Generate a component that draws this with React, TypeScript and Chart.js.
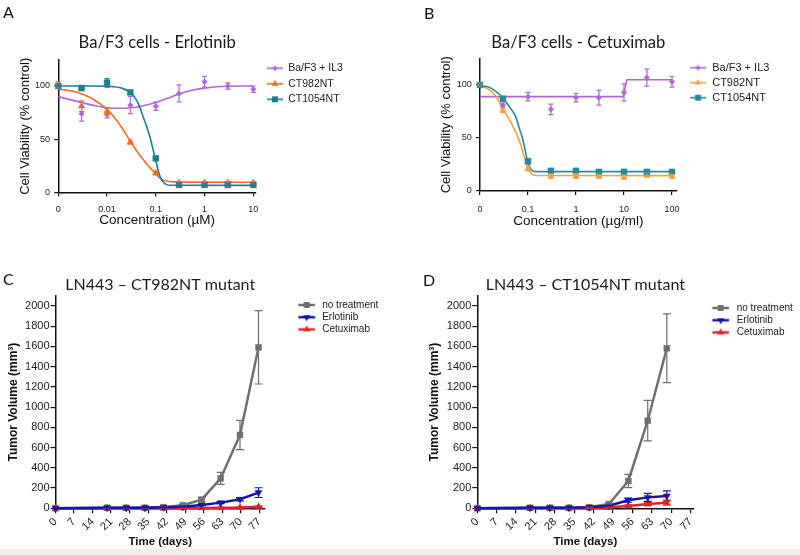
import React, { useEffect, useRef } from "react";
import { Chart, registerables } from "chart.js";

Chart.register(...registerables);

const SANS = "'Liberation Sans', Arial, Helvetica, sans-serif";
const HEAD = "Lato, 'Open Sans', sans-serif";

/* ---------------- Panel A : Ba/F3 cells - Erlotinib ---------------- */
const concA = [0.001, 0.003, 0.01, 0.03, 0.1, 0.3, 1, 3, 10];
const concTicksA = [0.001, 0.01, 0.1, 1, 10];
const concTickLabelsA = ["0", "0.01", "0.1", "1", "10"];
const erlIL3 = [100, 74, 73, 82, 81, 93, 104, 100, 97];
const erlIL3Err = [2, 7, 3, 8, 4, 8, 5, 3, 3];
const erlCT982 = [101, 81, 76, 47, 18, 9, 9, 9, 9];
const erlCT982Err = [3, 5, 3, 1.5, 1.5, 1, 1, 1, 1];
const erlCT1054 = [100, 98, 103, 94, 32, 7, 7, 7, 7];
const erlCT1054Err = [2, 2, 4, 1, 1, 1, 1, 1, 1];
const erlIL3FitX = [0.001, 0.002, 0.003, 0.005, 0.01, 0.02, 0.03, 0.05, 0.1, 0.2, 0.3, 0.5, 1, 2, 3, 10];
const erlIL3FitY = [90, 86.5, 84.5, 82, 79.5, 79, 79.5, 81, 84.5, 89.5, 92.5, 95.5, 98, 99.5, 99.8, 100];
const erlCT982FitX = [0.001, 0.002, 0.003, 0.005, 0.01, 0.015, 0.02, 0.03, 0.045, 0.055, 0.076, 0.096, 0.12, 0.15, 0.2, 0.3, 10];
const erlCT982FitY = [97, 95, 92.5, 88, 78, 69, 61, 48, 36, 31, 23, 18.5, 13.5, 11, 10, 9.6, 9.5];
const erlCT1054FitX = [0.001, 0.005, 0.01, 0.02, 0.03, 0.04, 0.047, 0.055, 0.065, 0.076, 0.085, 0.096, 0.11, 0.122, 0.14, 0.167, 0.2, 10];
const erlCT1054FitY = [100, 100, 99.7, 98, 94, 87, 80, 71, 62, 52, 43, 33, 22, 15, 10, 7.2, 6.6, 6.5];
const viabilityTicks = [0, 50, 100];

/* ---------------- Panel B : Ba/F3 cells - Cetuximab ---------------- */
const concB = [0.01, 0.03, 0.1, 0.3, 1, 3, 10, 30, 100];
const concTicksB = [0.01, 0.1, 1, 10, 100];
const concTickLabelsB = ["0", "0.1", "1", "10", "100"];
const cetIL3 = [100, 81, 89, 77, 88, 88, 93, 107, 103];
const cetIL3Err = [1, 2, 4, 5, 4, 7, 8, 8, 5];
const cetCT982 = [100, 76, 21, 14, 14, 14, 13, 15, 14];
const cetCT982Err = [1, 2, 2, 2, 2, 2, 2, 2, 2];
const cetCT1054 = [100, 87, 28, 19, 19, 18, 18, 18, 18];
const cetCT1054Err = [1, 1, 2, 1, 1, 1, 1, 1, 1];
const cetIL3FitX = [0.01, 9.6, 11.5, 100];
const cetIL3FitY = [89, 89, 105, 105];
const cetCT982FitX = [0.01, 0.015, 0.02, 0.03, 0.04, 0.05, 0.06, 0.07, 0.08, 0.09, 0.1, 0.11, 0.125, 0.15, 100];
const cetCT982FitY = [99, 96, 91, 78, 68, 60, 52, 44, 35, 28, 22, 18, 15.5, 14.6, 14.5];
const cetCT1054FitX = [0.01, 0.015, 0.02, 0.03, 0.04, 0.05, 0.0556, 0.065, 0.0766, 0.087, 0.097, 0.11, 0.124, 0.15, 100];
const cetCT1054FitY = [99.5, 98, 95, 88, 80, 74, 70, 60, 50, 39, 29, 22, 19, 18.3, 18.3];

/* ---------------- Panels C / D : LN443 tumour volume ---------------- */
const dayTicks = [0, 7, 14, 21, 28, 35, 42, 49, 56, 63, 70, 77];
const dayTickLabels = ["0", "7", "14", "21", "28", "35", "42", "49", "56", "63", "70", "77"];
const volumeTicks = [0, 200, 400, 600, 800, 1000, 1200, 1400, 1600, 1800, 2000];

const daysC = [0, 19.5, 26.7, 33.8, 40.8, 48.1, 55.2, 62.4, 69.7, 76.7];
const noTreatC = [0, 5, 5, 5, 10, 30, 85, 296, 725, 1592];
const noTreatCErr = [0, 3, 3, 3, 5, 8, 20, 60, 145, 363];
const erlotinibC = [0, 5, 5, 5, 10, 16, 33, 56, 89, 155];
const erlotinibCErr = [0, 2, 2, 2, 3, 4, 6, 10, 15, 48];
const cetuximabC = [0, 0, 0, 0, 0, 2, 3, 5, 8, 15];
const cetuximabCErr = [0, 0, 0, 0, 0, 1, 1, 2, 3, 6];

const daysD = [0, 19, 26.2, 33.1, 40.4, 47.5, 54.5, 61.5, 68.4];
const noTreatD = [0, 5, 5, 5, 10, 42, 270, 866, 1582];
const noTreatDErr = [0, 3, 3, 3, 5, 10, 65, 200, 340];
const erlotinibD = [0, 5, 5, 5, 10, 25, 80, 108, 122];
const erlotinibDErr = [0, 2, 2, 2, 3, 5, 20, 40, 50];
const cetuximabD = [0, 0, 0, 0, 3, 10, 23, 42, 55];
const cetuximabDErr = [0, 0, 0, 0, 1, 3, 10, 15, 25];

/* ---------------- colours ---------------- */
const PURPLE = "#b266d6";
const ORANGE = "#f26c22";
const TEAL_A = "#1c7f90";
const AMBER = "#f2a33a";
const TEAL_B = "#27899e";
const GRAY = "#6f6f6f";
const BLUE = "#1515a8";
const RED = "#e3232c";
const AXIS = "#111";

type Series = {
  label: string;
  x: number[];
  y: number[];
  err: number[];
  fitX?: number[];
  fitY?: number[];
  smooth?: boolean;
  color: string;
  shape: string;
  rotation?: number;
  radius: number;
  lineWidth: number;
  capHalf: number;
  order: number;
};

type Panel = {
  canvas: { left: number; top: number; width: number; height: number };
  area: { left: number; right: number; top: number; bottom: number };
  title: { text: string; size: number; centerY: number };
  x: {
    type: "logarithmic" | "linear";
    min: number;
    pxPerUnit: number;
    ticks: number[];
    labels: string[];
    fontSize: number;
    tickPad: number;
    tickLen: number;
    rotation: number;
    title: string;
    titleSize: number;
    titleBold: boolean;
    titleCenterY: number;
  };
  y: {
    min: number;
    pxPerUnit: number;
    ticks: number[];
    fontSize: number;
    tickPad: number;
    tickLen: number;
    title: string;
    titleSize: number;
    titleBold: boolean;
    titleCenterX: number;
  };
  legend: { size: number; pad: number; firstY: number; textX: number; lineFrom: number; lineTo: number };
  series: Series[];
};

const errorBarPlugin = {
  id: "errorBars",
  afterDatasetsDraw(chart: any) {
    const ctx = chart.ctx;
    const xs = chart.scales.x;
    const ys = chart.scales.y;
    chart.data.datasets.forEach((ds: any) => {
      if (!ds.errors) return;
      ctx.save();
      ctx.strokeStyle = ds.borderColor;
      ctx.lineWidth = 1.2;
      ds.data.forEach((pt: any, j: number) => {
        const e = ds.errors[j];
        if (!e) return;
        const px = xs.getPixelForValue(pt.x);
        const top = ys.getPixelForValue(pt.y + e);
        const bot = ys.getPixelForValue(Math.max(pt.y - e, 0));
        const cw = ds.capHalf || 3;
        ctx.beginPath();
        ctx.moveTo(px, top);
        ctx.lineTo(px, bot);
        ctx.moveTo(px - cw, top);
        ctx.lineTo(px + cw, top);
        ctx.moveTo(px - cw, bot);
        ctx.lineTo(px + cw, bot);
        ctx.stroke();
      });
      ctx.restore();
    });
  },
};

function makeGlyph(w: number, h: number, from: number, to: number, s: Series): HTMLCanvasElement {
  const c = document.createElement("canvas");
  c.width = w;
  c.height = h;
  const g = c.getContext("2d")!;
  const cy = h / 2;
  g.strokeStyle = s.color;
  g.fillStyle = s.color;
  g.lineWidth = s.lineWidth;
  g.beginPath();
  g.moveTo(from, cy);
  g.lineTo(to, cy);
  g.stroke();
  const cx = (from + to) / 2;
  const r = s.radius;
  const ang = ((s.rotation || 0) * Math.PI) / 180;
  g.beginPath();
  if (s.shape === "rect") {
    const q = r * Math.SQRT1_2;
    g.rect(cx - q, cy - q, 2 * q, 2 * q);
  } else if (s.shape === "rectRot") {
    g.moveTo(cx, cy - r);
    g.lineTo(cx + r, cy);
    g.lineTo(cx, cy + r);
    g.lineTo(cx - r, cy);
    g.closePath();
  } else if (s.shape === "triangle") {
    for (let k = 0; k < 3; k++) {
      const t = ang + (k * 2 * Math.PI) / 3;
      const px = cx + Math.sin(t) * r;
      const py = cy - Math.cos(t) * r;
      if (k === 0) g.moveTo(px, py);
      else g.lineTo(px, py);
    }
    g.closePath();
  } else {
    g.arc(cx, cy, r, 0, Math.PI * 2);
  }
  g.fill();
  return c;
}

function buildChart(canvas: HTMLCanvasElement, p: Panel): Chart {
  const c = p.canvas;
  const a = p.area;
  const W = c.width;
  const H = c.height;
  const lLeft = a.left - c.left;
  const lRight = a.right - c.left;
  const lTop = a.top - c.top;
  const lBottom = a.bottom - c.top;
  const span = lRight - lLeft;
  const xMax =
    p.x.type === "logarithmic"
      ? Math.pow(10, Math.log10(p.x.min) + span / p.x.pxPerUnit)
      : p.x.min + span / p.x.pxPerUnit;
  const yMax = p.y.min + (lBottom - lTop) / p.y.pxPerUnit;

  const tPadTop = p.title.centerY - c.top - p.title.size / 2;
  const tPadBottom = Math.max(lTop - tPadTop - p.title.size, 0);

  const lg = p.legend;
  const boxX = a.right + lg.pad;
  const glyphW = Math.round(lg.textX - boxX - lg.size / 2);
  const m = document.createElement("canvas").getContext("2d")!;
  m.font = `normal ${lg.size}px ${SANS}`;
  const maxText = Math.max(...p.series.map((s) => m.measureText(s.label).width));
  const legendW = lg.pad + glyphW + lg.size / 2 + maxText + 10;
  const padRight = W - lRight - legendW;
  const legendTitleH = lg.firstY - c.top - lg.pad - lg.size / 2;
  const glyphs = p.series.map((s) => makeGlyph(glyphW, 12, lg.lineFrom - boxX, lg.lineTo - boxX, s));

  const xTitleLH = p.x.titleSize * 1.2;
  const yTitleLH = p.y.titleSize * 1.2;

  const datasets: any[] = [];
  p.series.forEach((s) => {
    datasets.push({
      type: "line",
      label: s.label,
      data: s.x.map((x, j) => ({ x, y: s.y[j] })),
      errors: s.err,
      capHalf: s.capHalf,
      showLine: !s.fitX,
      borderColor: s.color,
      backgroundColor: s.color,
      borderWidth: s.lineWidth,
      pointStyle: s.shape,
      pointRotation: s.rotation || 0,
      pointRadius: s.radius,
      pointBorderWidth: 0.5,
      pointBorderColor: s.color,
      pointBackgroundColor: s.color,
      tension: 0,
      clip: false,
      order: s.order,
    });
  });
  p.series.forEach((s) => {
    if (!s.fitX || !s.fitY) return;
    const fy = s.fitY;
    datasets.push({
      type: "line",
      label: s.label + " fit",
      data: s.fitX.map((x, j) => ({ x, y: fy[j] })),
      borderColor: s.color,
      backgroundColor: s.color,
      borderWidth: s.lineWidth,
      pointRadius: 0,
      cubicInterpolationMode: s.smooth ? "monotone" : "default",
      tension: 0,
      clip: false,
      order: 10 + s.order,
    });
  });

  const config: any = {
    type: "line",
    data: { datasets },
    plugins: [errorBarPlugin],
    options: {
      responsive: false,
      animation: false,
      events: [],
      layout: { padding: { left: 0, top: 0, bottom: 0, right: padRight }, autoPadding: false },
      plugins: {
        tooltip: { enabled: false },
        title: {
          display: true,
          text: p.title.text,
          fullSize: false,
          color: "#1a1a1a",
          font: { family: HEAD, size: p.title.size, lineHeight: 1, weight: "normal" },
          padding: { top: tPadTop, bottom: tPadBottom },
        },
        legend: {
          display: true,
          position: "right",
          align: "start",
          fullSize: true,
          maxWidth: 1000,
          title: {
            display: true,
            text: "",
            font: { size: 10, lineHeight: 1 },
            padding: { top: legendTitleH - 10, bottom: 0 },
          },
          labels: {
            usePointStyle: true,
            pointStyleWidth: glyphW,
            boxHeight: lg.size,
            padding: lg.pad,
            color: "#222",
            font: { family: SANS, size: lg.size },
            generateLabels: () =>
              p.series.map((s, i) => ({
                text: s.label,
                fillStyle: s.color,
                strokeStyle: s.color,
                lineWidth: 0,
                hidden: false,
                pointStyle: glyphs[i],
                rotation: 0,
                datasetIndex: i,
                fontColor: "#222",
              })),
          },
        },
      },
      scales: {
        x: {
          type: p.x.type,
          min: p.x.min,
          max: xMax,
          afterBuildTicks: (s: any) => {
            s.ticks = p.x.ticks.map((v) => ({ value: v }));
          },
          afterFit: (s: any) => {
            s.height = H - lBottom;
          },
          ticks: {
            autoSkip: false,
            minRotation: p.x.rotation,
            maxRotation: p.x.rotation,
            padding: p.x.tickPad,
            color: "#222",
            font: { family: SANS, size: p.x.fontSize },
            callback: (_v: any, i: number) => p.x.labels[i],
          },
          grid: { drawOnChartArea: false, drawTicks: true, tickLength: p.x.tickLen, color: AXIS, lineWidth: 1.2 },
          border: { display: true, color: AXIS, width: 1.5 },
          title: {
            display: true,
            text: p.x.title,
            color: "#111",
            font: { family: SANS, size: p.x.titleSize, weight: p.x.titleBold ? "bold" : "normal", lineHeight: 1.2 },
            padding: { top: 0, bottom: H - (p.x.titleCenterY - c.top) - xTitleLH / 2 },
          },
        },
        y: {
          type: "linear",
          min: p.y.min,
          max: yMax,
          afterBuildTicks: (s: any) => {
            s.ticks = p.y.ticks.map((v) => ({ value: v }));
          },
          afterFit: (s: any) => {
            s.width = lLeft;
          },
          ticks: {
            autoSkip: false,
            padding: p.y.tickPad,
            color: "#222",
            font: { family: SANS, size: p.y.fontSize },
            callback: (v: any) => String(v),
          },
          grid: { drawOnChartArea: false, drawTicks: true, tickLength: p.y.tickLen, color: AXIS, lineWidth: 1.2 },
          border: { display: true, color: AXIS, width: 1.5 },
          title: {
            display: true,
            text: p.y.title,
            color: "#111",
            font: { family: SANS, size: p.y.titleSize, weight: p.y.titleBold ? "bold" : "normal", lineHeight: 1.2 },
            padding: { top: p.y.titleCenterX - c.left - yTitleLH / 2, bottom: 0 },
          },
        },
      },
    },
  };
  return new Chart(canvas, config);
}

const panelA: Panel = {
  canvas: { left: 0, top: 0, width: 400, height: 250 },
  area: { left: 58.3, right: 256, top: 60.2, bottom: 192.3 },
  title: { text: "Ba/F3 cells - Erlotinib", size: 16.6, centerY: 42.7 },
  x: {
    type: "logarithmic", min: 0.001, pxPerUnit: 48.75, ticks: concTicksA, labels: concTickLabelsA,
    fontSize: 9, tickPad: 7.6, tickLen: 4, rotation: 0,
    title: "Concentration (µM)", titleSize: 13.5, titleBold: false, titleCenterY: 220,
  },
  y: {
    min: 0, pxPerUnit: 1.063, ticks: viabilityTicks, fontSize: 9, tickPad: 4.3, tickLen: 4,
    title: "Cell Viability (% control)", titleSize: 13, titleBold: false, titleCenterX: 25,
  },
  legend: { size: 10.5, pad: 5, firstY: 68.3, textX: 288.3, lineFrom: 267, lineTo: 283 },
  series: [
    { label: "Ba/F3 + IL3", x: concA, y: erlIL3, err: erlIL3Err, fitX: erlIL3FitX, fitY: erlIL3FitY, smooth: true,
      color: PURPLE, shape: "rectRot", radius: 2.8, lineWidth: 1.6, capHalf: 2.5, order: 2 },
    { label: "CT982NT", x: concA, y: erlCT982, err: erlCT982Err, fitX: erlCT982FitX, fitY: erlCT982FitY, smooth: true,
      color: ORANGE, shape: "triangle", radius: 3.8, lineWidth: 1.6, capHalf: 2.5, order: 1 },
    { label: "CT1054NT", x: concA, y: erlCT1054, err: erlCT1054Err, fitX: erlCT1054FitX, fitY: erlCT1054FitY, smooth: true,
      color: TEAL_A, shape: "rect", radius: 4.2, lineWidth: 1.6, capHalf: 2.5, order: 0 },
  ],
};

const panelB: Panel = {
  canvas: { left: 400, top: 0, width: 400, height: 250 },
  area: { left: 480, right: 676.7, top: 58.5, bottom: 191 },
  title: { text: "Ba/F3 cells - Cetuximab", size: 16.6, centerY: 42.7 },
  x: {
    type: "logarithmic", min: 0.01, pxPerUnit: 48, ticks: concTicksB, labels: concTickLabelsB,
    fontSize: 9, tickPad: 8.9, tickLen: 4, rotation: 0,
    title: "Concentration (µg/ml)", titleSize: 13.5, titleBold: false, titleCenterY: 221.7,
  },
  y: {
    min: 0, pxPerUnit: 1.06, ticks: viabilityTicks, fontSize: 9, tickPad: 4.3, tickLen: 4,
    title: "Cell Viability (% control)", titleSize: 13, titleBold: false, titleCenterX: 446.7,
  },
  legend: { size: 11, pad: 4, firstY: 67.7, textX: 711.7, lineFrom: 690, lineTo: 706 },
  series: [
    { label: "Ba/F3 + IL3", x: concB, y: cetIL3, err: cetIL3Err, fitX: cetIL3FitX, fitY: cetIL3FitY, smooth: false,
      color: PURPLE, shape: "rectRot", radius: 2.8, lineWidth: 1.6, capHalf: 2.5, order: 2 },
    { label: "CT982NT", x: concB, y: cetCT982, err: cetCT982Err, fitX: cetCT982FitX, fitY: cetCT982FitY, smooth: true,
      color: AMBER, shape: "triangle", radius: 3.6, lineWidth: 1.6, capHalf: 2.5, order: 1 },
    { label: "CT1054NT", x: concB, y: cetCT1054, err: cetCT1054Err, fitX: cetCT1054FitX, fitY: cetCT1054FitY, smooth: true,
      color: TEAL_B, shape: "rect", radius: 4.2, lineWidth: 1.6, capHalf: 2.5, order: 0 },
  ],
};

const panelC: Panel = {
  canvas: { left: 0, top: 255, width: 400, height: 300 },
  area: { left: 55.5, right: 265, top: 295.9, bottom: 508.3 },
  title: { text: "LN443 – CT982NT mutant", size: 16, centerY: 285 },
  x: {
    type: "linear", min: 0, pxPerUnit: 2.647, ticks: dayTicks, labels: dayTickLabels,
    fontSize: 11, tickPad: 2, tickLen: 5, rotation: 45,
    title: "Time (days)", titleSize: 11.5, titleBold: true, titleCenterY: 541.7,
  },
  y: {
    min: 0, pxPerUnit: 0.10115, ticks: volumeTicks, fontSize: 11, tickPad: 1, tickLen: 5,
    title: "Tumor Volume (mm³)", titleSize: 12, titleBold: true, titleCenterX: 14,
  },
  legend: { size: 10, pad: 2.2, firstY: 305, textX: 321.7, lineFrom: 298.3, lineTo: 315 },
  series: [
    { label: "no treatment", x: daysC, y: noTreatC, err: noTreatCErr, color: GRAY, shape: "rect", radius: 4.2,
      lineWidth: 2.5, capHalf: 4, order: 2 },
    { label: "Erlotinib", x: daysC, y: erlotinibC, err: erlotinibCErr, color: BLUE, shape: "triangle", rotation: 180,
      radius: 4, lineWidth: 2.5, capHalf: 4, order: 0 },
    { label: "Cetuximab", x: daysC, y: cetuximabC, err: cetuximabCErr, color: RED, shape: "triangle", radius: 4,
      lineWidth: 2.5, capHalf: 4, order: 1 },
  ],
};

const panelD: Panel = {
  canvas: { left: 380, top: 255, width: 430, height: 300 },
  area: { left: 477.3, right: 693.5, top: 295.9, bottom: 508.3 },
  title: { text: "LN443 – CT1054NT mutant", size: 16, centerY: 285 },
  x: {
    type: "linear", min: 0, pxPerUnit: 2.771, ticks: dayTicks, labels: dayTickLabels,
    fontSize: 11, tickPad: 2, tickLen: 5, rotation: 45,
    title: "Time (days)", titleSize: 11.5, titleBold: true, titleCenterY: 541.7,
  },
  y: {
    min: 0, pxPerUnit: 0.10115, ticks: volumeTicks, fontSize: 11, tickPad: 1, tickLen: 5,
    title: "Tumor Volume (mm³)", titleSize: 12, titleBold: true, titleCenterX: 435,
  },
  legend: { size: 10, pad: 2.2, firstY: 308, textX: 736.7, lineFrom: 712.3, lineTo: 729 },
  series: [
    { label: "no treatment", x: daysD, y: noTreatD, err: noTreatDErr, color: GRAY, shape: "rect", radius: 4.2,
      lineWidth: 2.5, capHalf: 4, order: 2 },
    { label: "Erlotinib", x: daysD, y: erlotinibD, err: erlotinibDErr, color: BLUE, shape: "triangle", rotation: 180,
      radius: 4, lineWidth: 2.5, capHalf: 4, order: 0 },
    { label: "Cetuximab", x: daysD, y: cetuximabD, err: cetuximabDErr, color: RED, shape: "triangle", radius: 4,
      lineWidth: 2.5, capHalf: 4, order: 1 },
  ],
};

function PanelChart({ panel }: { panel: Panel }) {
  const ref = useRef<HTMLCanvasElement | null>(null);
  useEffect(() => {
    if (!ref.current) return;
    const chart = buildChart(ref.current, panel);
    return () => chart.destroy();
  }, [panel]);
  const c = panel.canvas;
  return (
    <canvas
      ref={ref}
      width={c.width}
      height={c.height}
      style={{ position: "absolute", left: c.left, top: c.top, width: c.width, height: c.height }}
    />
  );
}

function Letter({ text, left, top }: { text: string; left: number; top: number }) {
  return (
    <div
      style={{
        position: "absolute",
        left,
        top,
        fontFamily: HEAD,
        fontSize: 16,
        lineHeight: "16px",
        color: "#111",
      }}
    >
      {text}
    </div>
  );
}

export default function App() {
  return (
    <div
      style={{
        position: "absolute",
        left: 0,
        top: 0,
        width: 800,
        height: 555,
        background: "#fff",
        overflow: "hidden",
      }}
    >
      <PanelChart panel={panelA} />
      <PanelChart panel={panelB} />
      <PanelChart panel={panelC} />
      <PanelChart panel={panelD} />
      <Letter text="A" left={3} top={4.3} />
      <Letter text="B" left={424} top={5} />
      <Letter text="C" left={3} top={270.6} />
      <Letter text="D" left={423} top={272} />
      <div style={{ position: "absolute", left: 0, top: 549, width: 800, height: 6, background: "#f4efeb" }} />
    </div>
  );
}
